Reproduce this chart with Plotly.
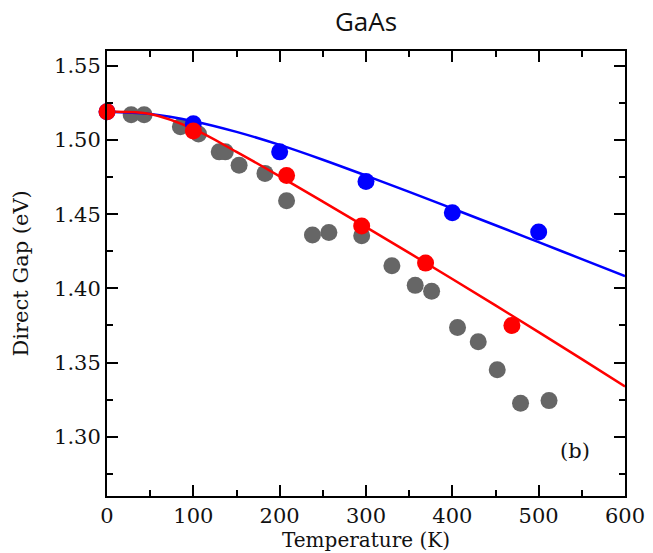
import plotly.graph_objects as go

# Measured band gap of GaAs (gray), and two calculated sets (blue, red)
meas_T = [28, 43, 85, 106, 130, 137, 153, 183, 208, 238, 257, 295,
          330, 357, 376, 406, 430, 452, 479, 512]
meas_E = [1.517, 1.517, 1.509, 1.504, 1.492, 1.492, 1.483, 1.4775, 1.459, 1.436, 1.4376, 1.4355,
          1.4153, 1.402, 1.398, 1.3736, 1.364, 1.3451, 1.3225, 1.3243]

blue_T = [0, 100, 200, 300, 400, 500]
blue_E = [1.519, 1.511, 1.492, 1.472, 1.451, 1.438]

red_T = [0, 100, 208, 295, 369, 469]
red_E = [1.519, 1.506, 1.476, 1.442, 1.417, 1.375]

# Fitted temperature dependence for each calculated set
fit_T = [0, 50, 100, 150, 200, 250, 300, 350, 400, 450, 500, 550, 600]
blue_fit_E = [1.519, 1.5175, 1.5127, 1.5055, 1.4967, 1.4867, 1.4760, 1.4650, 1.4538,
              1.4425, 1.4311, 1.4197, 1.4082]
red_fit_E = [1.519, 1.5175, 1.5075, 1.4920, 1.4755, 1.4585, 1.4413, 1.4239, 1.4063,
             1.3885, 1.3705, 1.3523, 1.3339]

serif = "DejaVu Serif"
INK = "#111111"
GRAY = "#666666"
BLUE = "#0000ff"
RED = "#ff0000"

fig = go.Figure()
fig.add_trace(go.Scatter(x=meas_T, y=meas_E, mode="markers",
                         marker=dict(size=17, color=GRAY), cliponaxis=False))
fig.add_trace(go.Scatter(x=fit_T, y=blue_fit_E, mode="lines",
                         line=dict(color=BLUE, width=2.5, shape="spline", smoothing=1.0)))
fig.add_trace(go.Scatter(x=fit_T, y=red_fit_E, mode="lines",
                         line=dict(color=RED, width=2.5, shape="spline", smoothing=1.0)))
fig.add_trace(go.Scatter(x=blue_T, y=blue_E, mode="markers",
                         marker=dict(size=17, color=BLUE), cliponaxis=False))
fig.add_trace(go.Scatter(x=red_T, y=red_E, mode="markers",
                         marker=dict(size=17, color=RED), cliponaxis=False))

axis_common = dict(
    showline=True, linecolor="black", linewidth=2, mirror="allticks",
    ticks="inside", ticklen=11, tickwidth=1.5, tickcolor="black",
    showgrid=False, zeroline=False, automargin=False,
    tickfont=dict(family=serif, size=21, color=INK),
)

fig.update_xaxes(
    range=[0, 600], dtick=100, tick0=0,
    minor=dict(ticks="inside", ticklen=6, dtick=50, tickwidth=1.5, tickcolor="black"),
    **axis_common,
)
fig.update_yaxes(
    range=[1.26, 1.56], dtick=0.05, tick0=1.3, tickformat=".2f",
    minor=dict(ticks="inside", ticklen=6, dtick=0.025, tickwidth=1.5, tickcolor="black"),
    **axis_common,
)

# Axis titles
fig.add_annotation(xref="paper", yref="paper", x=0.5, y=0, yshift=-44,
                   xanchor="center", yanchor="middle", showarrow=False,
                   text="Temperature (K)", font=dict(family=serif, size=20, color=INK))
fig.add_annotation(xref="paper", yref="paper", x=0, y=0.5, xshift=-87,
                   xanchor="center", yanchor="middle", showarrow=False, textangle=-90,
                   text="Direct Gap (eV)", font=dict(family=serif, size=21, color=INK))

fig.add_annotation(x=542, y=1.2905, text="(b)", showarrow=False,
                   font=dict(family=serif, size=21, color=INK))

fig.update_layout(
    width=653, height=553,
    margin=dict(l=107, r=28, t=51, b=57),
    paper_bgcolor="white", plot_bgcolor="white",
    showlegend=False,
    title=dict(text="GaAs", x=0.5605, xanchor="center", y=0.96, yanchor="middle",
               font=dict(family="Open Sans", size=26, color=INK)),
)

fig.write_html("out.html")
